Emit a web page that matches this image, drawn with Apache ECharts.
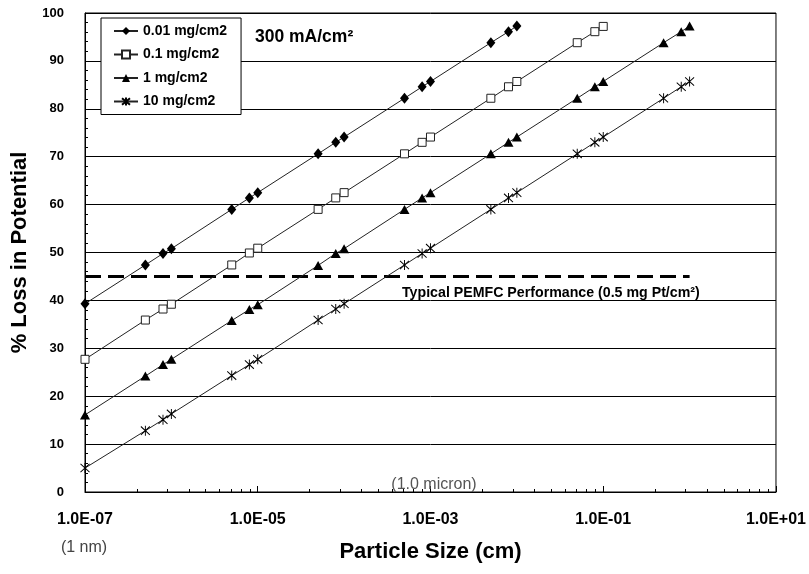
<!DOCTYPE html>
<html>
<head>
<meta charset="utf-8">
<script src="https://cdn.jsdelivr.net/npm/echarts@6/dist/echarts.min.js"></script>
<style>
  html, body { margin: 0; padding: 0; background: #fff; }
  #chart { width: 809px; height: 574px; }
</style>
</head>
<body>
<div id="chart"></div>
<script>
// ---- data ----
const seriesNames = ['0.01 mg/cm2', '0.1 mg/cm2', '1 mg/cm2', '10 mg/cm2'];
const particleSizes = [1e-7, 5e-7, 8e-7, 1e-6, 5e-6, 8e-6, 1e-5, 5e-5, 8e-5, 1e-4, 5e-4, 8e-4,
                       1e-3, 5e-3, 8e-3, 1e-2, 5e-2, 8e-2, 1e-1, 5e-1, 8e-1, 1];
const loss001 = [39.3, 47.4, 49.8, 50.8, 59.0, 61.4, 62.5, 70.6, 73.0, 74.1, 82.2, 84.6, 85.7, 93.8, 96.1, 97.3];
const loss01  = [27.7, 35.9, 38.2, 39.2, 47.4, 49.9, 50.9, 59.0, 61.4, 62.5, 70.6, 73.0, 74.1, 82.2, 84.6, 85.7, 93.8, 96.1, 97.2];
const loss1   = [16.1, 24.2, 26.6, 27.7, 35.8, 38.1, 39.1, 47.3, 49.8, 50.8, 59.0, 61.4, 62.5, 70.6, 73.0, 74.1, 82.2, 84.6, 85.7, 93.8, 96.1, 97.3];
const loss10  = [5.0, 12.8, 15.1, 16.3, 24.3, 26.6, 27.7, 35.9, 38.2, 39.3, 47.4, 49.8, 50.9, 59.0, 61.4, 62.5, 70.6, 73.0, 74.1, 82.2, 84.6, 85.7];
const typicalLevel = 45;
const typicalRange = [1e-7, 1];
const yTicks = { min: 0, max: 100, interval: 10 };
const xRange = { min: 1e-7, max: 10 };
const xLabelExponents = [-7, -5, -3, -1, 1];

// Excel-style base-100 log axis minor ticks (in log10 units)
const xMajorTickPos = xLabelExponents.slice();
const xMinorTickPos = [];
for (let i = 0; i < xLabelExponents.length - 1; i++) {
  for (let k = 2; k <= 9; k++) xMinorTickPos.push(xLabelExponents[i] + 2 * Math.log10(k));
}

function pairs(vals) { return vals.map((v, i) => [particleSizes[i], v]); }

const FONT = '"Liberation Sans", Arial, sans-serif';
const chart = echarts.init(document.getElementById('chart'), null, { renderer: 'canvas' });

const lineCommon = {
  type: 'line',
  xAxisIndex: 0,
  yAxisIndex: 0,
  lineStyle: { color: '#222', width: 1 },
  emphasis: { disabled: true },
  animation: false,
  z: 3
};

const option = {
  backgroundColor: '#fff',
  animation: false,
  grid: {
    left: 85, top: 13, right: 32, bottom: 82,
    show: true, borderColor: '#000', borderWidth: 1, backgroundColor: 'transparent'
  },
  legend: {
    data: seriesNames,
    orient: 'vertical',
    left: 101, top: 18,
    padding: [5, 14, 5, 12],
    backgroundColor: '#fff',
    borderColor: '#000',
    borderWidth: 1,
    itemWidth: 24,
    itemHeight: 10,
    itemGap: 7.5,
    selectedMode: false,
    textStyle: { fontFamily: FONT, fontWeight: 'bold', fontSize: 14, color: '#000', lineHeight: 16 }
  },
  xAxis: [
    {
      type: 'log', logBase: 10,
      min: xRange.min, max: xRange.max,
      position: 'bottom',
      name: 'Particle Size (cm)',
      nameLocation: 'middle',
      nameGap: 49,
      nameTextStyle: { fontFamily: FONT, fontWeight: 'bold', fontSize: 22, color: '#000' },
      axisLine: { show: true, onZero: false, lineStyle: { color: '#000', width: 1 } },
      axisTick: { show: false },
      splitLine: { show: false },
      minorTick: { show: false },
      axisLabel: {
        margin: 20,
        fontFamily: FONT, fontWeight: 'bold', fontSize: 16, color: '#000',
        formatter: function (v) {
          const e = Math.round(Math.log10(v));
          if (xLabelExponents.indexOf(e) < 0) return '';
          const a = Math.abs(e);
          return '1.0E' + (e < 0 ? '-' : '+') + (a < 10 ? '0' : '') + a;
        }
      }
    },
    {
      type: 'value', min: xLabelExponents[0], max: xLabelExponents[xLabelExponents.length - 1],
      position: 'bottom',
      axisLine: { show: false, onZero: false },
      axisLabel: { show: false },
      splitLine: { show: false },
      axisTick: { show: true, inside: true, length: 3, customValues: xMinorTickPos, lineStyle: { color: '#000' } }
    },
    {
      type: 'value', min: xLabelExponents[0], max: xLabelExponents[xLabelExponents.length - 1],
      position: 'bottom',
      axisLine: { show: false, onZero: false },
      axisLabel: { show: false },
      splitLine: { show: false },
      axisTick: { show: true, inside: true, length: 6, customValues: xMajorTickPos, lineStyle: { color: '#000' } }
    }
  ],
  yAxis: {
    type: 'value',
    min: yTicks.min, max: yTicks.max, interval: yTicks.interval,
    position: 'left',
    name: '% Loss in Potential',
    nameLocation: 'middle',
    nameGap: 52,
    nameRotate: 90,
    nameTextStyle: { fontFamily: FONT, fontWeight: 'bold', fontSize: 22, color: '#000' },
    axisLine: { show: true, onZero: false, lineStyle: { color: '#000', width: 1 } },
    axisTick: { show: true, inside: true, length: 4, lineStyle: { color: '#000' } },
    minorTick: { show: true, splitNumber: 5, length: 3, lineStyle: { color: '#000' } },
    splitLine: { show: true, lineStyle: { color: '#000', width: 1 } },
    axisLabel: { margin: 21, fontFamily: FONT, fontWeight: 'bold', fontSize: 13, color: '#000' }
  },
  series: [
    Object.assign({}, lineCommon, {
      name: seriesNames[0], data: pairs(loss001),
      symbol: 'diamond', symbolSize: [9, 11],
      itemStyle: { color: '#000', borderColor: '#000', borderWidth: 0 }
    }),
    Object.assign({}, lineCommon, {
      name: seriesNames[1], data: pairs(loss01),
      symbol: 'rect', symbolSize: 8,
      itemStyle: { color: '#fff', borderColor: '#222', borderWidth: 1 }
    }),
    Object.assign({}, lineCommon, {
      name: seriesNames[2], data: pairs(loss1),
      symbol: 'triangle', symbolSize: [10, 9],
      itemStyle: { color: '#000', borderColor: '#000', borderWidth: 0 }
    }),
    Object.assign({}, lineCommon, {
      name: seriesNames[3], data: pairs(loss10),
      symbol: 'path://M0,0L10,10M10,0L0,10M5,-1L5,11', symbolSize: [9, 10],
      itemStyle: { color: 'none', borderColor: '#000', borderWidth: 1 }
    }),
    {
      type: 'line', name: 'typical',
      data: [[typicalRange[0], typicalLevel], [typicalRange[1], typicalLevel]],
      symbol: 'none',
      lineStyle: { color: '#000', width: 3, type: [16, 7] },
      emphasis: { disabled: true },
      silent: true, z: 2
    }
  ],
  graphic: [
    {
      type: 'text', x: 255, y: 37, z: 10,
      style: { text: '300 mA/cm²', font: 'bold 17.5px ' + FONT, fill: '#000', align: 'left', verticalAlign: 'middle' }
    },
    {
      type: 'text', x: 402, y: 293, z: 10,
      style: { text: 'Typical PEMFC Performance (0.5 mg Pt/cm²)', font: 'bold 14.2px ' + FONT, fill: '#000', align: 'left', verticalAlign: 'middle' }
    },
    {
      type: 'text', x: 434, y: 485, z: 10,
      style: { text: '(1.0 micron)', font: '16px ' + FONT, fill: '#555', align: 'center', verticalAlign: 'middle' }
    },
    {
      type: 'text', x: 84, y: 548, z: 10,
      style: { text: '(1 nm)', font: '16px ' + FONT, fill: '#444', align: 'center', verticalAlign: 'middle' }
    }
  ]
};
chart.setOption(option);
</script>
</body>
</html>
